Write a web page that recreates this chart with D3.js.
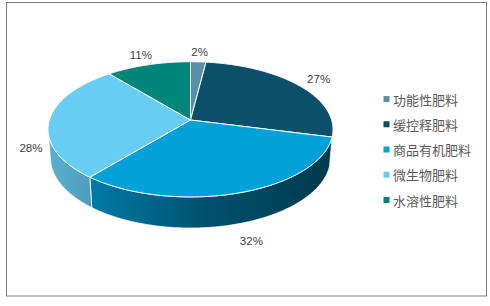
<!DOCTYPE html>
<html>
<head>
<meta charset="utf-8">
<script src="https://cdn.jsdelivr.net/npm/d3@7"></script>
<style>
  html, body { margin: 0; padding: 0; background: #fff; }
  svg { display: block; }
</style>
</head>
<body>
<svg id="chart" width="490" height="306"></svg>
<script>
const categories = ['功能性肥料', '缓控释肥料', '商品有机肥料', '微生物肥料', '水溶性肥料'];
const values = [2, 27, 32, 28, 11];
const valueLabels = ['2%', '27%', '32%', '28%', '11%'];
const colors = ['#5a8fa9', '#0b4f6a', '#00a1d9', '#67cdf3', '#008678'];

const svg = d3.select('#chart');
const W = 490, H = 306;

svg.append('rect').attr('x', 6.5).attr('y', 2.5).attr('width', 480).attr('height', 293.5)
  .attr('fill', '#fff').attr('stroke', '#808080').attr('stroke-width', 1);

// 3D projection parameters
const cx = 190.5, cy = 120, S = 141.1;
const sa = 0.47, ca = Math.sqrt(1 - sa * sa), D = 6.4, depthH = 0.23;
function proj(phi, r, h) {
  const x = r * Math.sin(phi), z = r * Math.cos(phi);
  const d = 1 + (z * ca - h * sa) / D;
  return [cx + S * x / d, cy - S * (z * sa + h * ca) / d];
}
const sil = Math.acos(-1 / (D * ca));      // silhouette angles
const frontA = sil, frontB = 2 * Math.PI - sil;

const pie = d3.pie().sort(null).value(d => d).startAngle(0).endAngle(2 * Math.PI);
const arcs = pie(values);

function arcPoints(a0, a1, h) {
  const n = Math.max(2, Math.ceil((a1 - a0) / 0.01));
  return d3.range(n + 1).map(i => proj(a0 + (a1 - a0) * i / n, 1, h));
}

const defs = svg.append('defs');
const gSide = svg.append('g');
const gTop = svg.append('g');

arcs.forEach((a, i) => {
  const base = d3.rgb(colors[i]);
  const gid = 'sideGrad' + i;
  const grad = defs.append('linearGradient').attr('id', gid)
    .attr('gradientUnits', 'userSpaceOnUse')
    .attr('x1', cx - S).attr('x2', cx + S).attr('y1', 0).attr('y2', 0);
  [[0, 0.86], [0.55, 0.5], [1, 0.36]].forEach(([o, f]) => {
    grad.append('stop').attr('offset', o)
      .attr('stop-color', d3.rgb(base.r * f, base.g * f, base.b * f).formatHex());
  });

  // side face
  const s0 = Math.max(a.startAngle, frontA), s1 = Math.min(a.endAngle, frontB);
  if (s1 > s0) {
    const topPts = arcPoints(s0, s1, 0);
    const botPts = arcPoints(s0, s1, -depthH).reverse();
    gSide.append('path')
      .attr('d', d3.line()(topPts.concat(botPts)) + 'Z')
      .attr('fill', `url(#${gid})`)
      .attr('stroke', '#fff').attr('stroke-width', 0.8).attr('stroke-linejoin', 'round');
  }

  // top face
  const pts = [[cx, cy]].concat(arcPoints(a.startAngle, a.endAngle, 0));
  gTop.append('path')
    .attr('d', d3.line()(pts) + 'Z')
    .attr('fill', colors[i])
    .attr('stroke', '#fff').attr('stroke-width', 1).attr('stroke-linejoin', 'round');
});

// data labels
arcs.forEach((a, i) => {
  const mid = (a.startAngle + a.endAngle) / 2;
  const z = Math.cos(mid);
  const h = z < 0.3 ? -depthH : 0;
  const r = Math.abs(Math.sin(mid)) > 0.95 ? 1.15 : 1.2;
  const [x, y] = proj(mid, r, h);
  svg.append('text')
    .attr('x', x).attr('y', y)
    .attr('text-anchor', 'middle').attr('dominant-baseline', 'central')
    .attr('font-family', '"Liberation Sans", "Noto Sans CJK SC", sans-serif')
    .attr('font-size', 11.5).attr('fill', '#404040')
    .text(valueLabels[i]);
});

// legend
const legY = d3.scalePoint().domain(categories).range([99, 200]);
const leg = svg.append('g');
categories.forEach((c, i) => {
  const y = legY(c);
  leg.append('rect').attr('x', 383.5).attr('y', y - 3).attr('width', 6).attr('height', 6)
    .attr('fill', colors[i]);
  leg.append('text').attr('x', 393).attr('y', y)
    .attr('dominant-baseline', 'central')
    .attr('font-family', '"Noto Sans CJK SC", sans-serif')
    .attr('font-size', 13).attr('fill', '#595959')
    .text(c);
});
</script>
</body>
</html>
